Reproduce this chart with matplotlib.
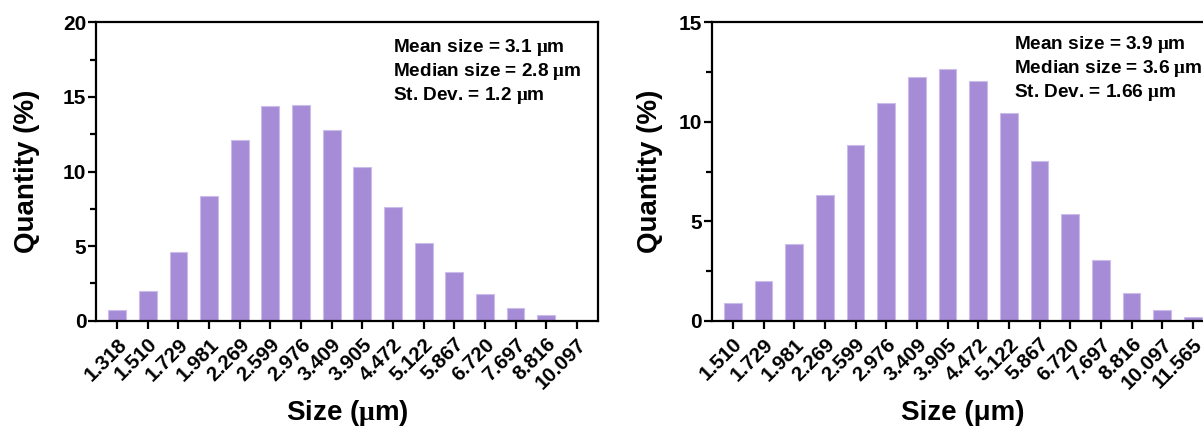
import matplotlib
matplotlib.use("Agg")
import matplotlib.pyplot as plt
import matplotlib.transforms as mtransforms
from matplotlib.ticker import MultipleLocator

plt.rcParams['font.family'] = ['Liberation Sans', 'DejaVu Sans']
plt.rcParams['font.weight'] = 'bold'
plt.rcParams['mathtext.fontset'] = 'custom'
plt.rcParams['mathtext.rm'] = 'Liberation Serif'

# ---- data ----
left_labels = ["1.318", "1.510", "1.729", "1.981", "2.269", "2.599", "2.976", "3.409",
               "3.905", "4.472", "5.122", "5.867", "6.720", "7.697", "8.816", "10.097"]
left_values = [0.7, 2.0, 4.6, 8.35, 12.1, 14.4, 14.45, 12.8,
               10.3, 7.65, 5.2, 3.25, 1.78, 0.85, 0.35, 0.0]

right_labels = ["1.510", "1.729", "1.981", "2.269", "2.599", "2.976", "3.409", "3.905",
                "4.472", "5.122", "5.867", "6.720", "7.697", "8.816", "10.097", "11.565"]
right_values = [0.87, 2.02, 3.86, 6.33, 8.84, 10.92, 12.25, 12.65,
                12.04, 10.45, 8.03, 5.38, 3.04, 1.41, 0.54, 0.17]

left_stats = ["Mean size = 3.1 $\\mathrm{\\mu}$m",
              "Median size = 2.8 $\\mathrm{\\mu}$m",
              "St. Dev. = 1.2 $\\mathrm{\\mu}$m"]
right_stats = ["Mean size = 3.9 $\\mathrm{\\mu}$m",
               "Median size = 3.6 $\\mathrm{\\mu}$m",
               "St. Dev. = 1.66 $\\mathrm{\\mu}$m"]

bar_color = "#a68cd6"
edge_color = "#cbbdea"

W, H = 1203, 430
fig = plt.figure(figsize=(W / 100, H / 100), dpi=100)


def px_axes(x0, x1, ytop, ybot):
    return fig.add_axes([x0 / W, 1 - ybot / H, (x1 - x0) / W, (ybot - ytop) / H])


def style(ax, labels, values, ymax, major, minor, xlabel, x0, x1, ylab_x):
    n = len(labels)
    x = list(range(n))
    ax.bar(x, values, width=0.58, color=bar_color, edgecolor=edge_color, linewidth=0.8)
    ax.set_xlim(-0.69, n - 1 + 0.69)
    ax.set_ylim(0, ymax)
    ax.yaxis.set_major_locator(MultipleLocator(major))
    ax.yaxis.set_minor_locator(MultipleLocator(minor))
    ax.set_xticks(x)
    ax.set_xticklabels(labels, rotation=45, ha='right', va='top',
                       rotation_mode='anchor', fontsize=14.8, fontweight='bold')
    shift = mtransforms.ScaledTranslation(-11 / 100, -1 / 100, fig.dpi_scale_trans)
    for lab in ax.get_xticklabels():
        lab.set_transform(lab.get_transform() + shift)
    for lab in ax.get_yticklabels():
        lab.set_fontsize(15)
        lab.set_fontweight('bold')
    for sp in ax.spines.values():
        sp.set_linewidth(1.6)
    ax.tick_params(axis='both', which='major', direction='out', length=6, width=1.6, pad=1)
    ax.tick_params(axis='y', which='minor', direction='out', length=4, width=1.6)
    ax.tick_params(axis='x', pad=4)
    ax.set_ylabel("Quantity (%)", fontsize=20, fontweight='bold', va='center')
    ax.yaxis.set_label_coords((ylab_x - x0) / (x1 - x0), 0.5)
    ax.set_xlabel(xlabel, fontsize=20, fontweight='bold', va='center')
    ax.xaxis.set_label_coords(0.5, (320.7 - 413) / 298.4)


ax1 = px_axes(96, 598, 22.3, 320.7)
style(ax1, left_labels, left_values, 20, 5, 2.5, "Size ($\\mathrm{\\mu}$m)", 96, 598, 27)
ax2 = px_axes(711.7, 1214, 22.3, 320.7)
style(ax2, right_labels, right_values, 15, 5, 2.5, "Size (μm)", 711.7, 1214, 650)

fig.text(393 / W, 1 - 37 / H, "\n".join(left_stats), ha='left', va='top',
         fontsize=13.7, fontweight='bold', linespacing=1.21)
fig.text(1014 / W, 1 - 34 / H, "\n".join(right_stats), ha='left', va='top',
         fontsize=13.7, fontweight='bold', linespacing=1.21)

fig.savefig("out.png", dpi=100)
